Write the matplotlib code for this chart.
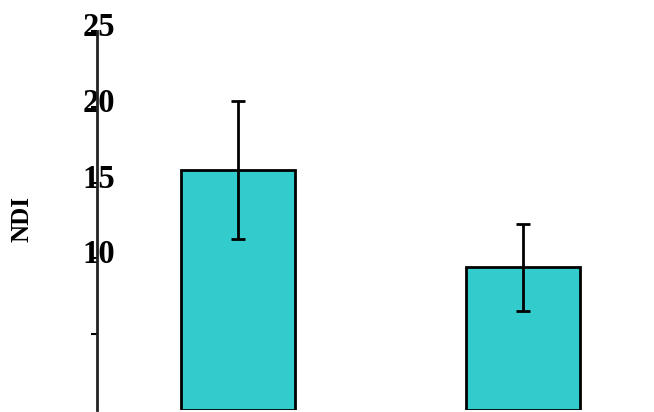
import matplotlib
matplotlib.use("Agg")
import matplotlib.pyplot as plt
from matplotlib.transforms import ScaledTranslation

# group means and error half-widths
groups = [1, 2]
ndi_mean = [15.8, 9.4]
ndi_err = [4.55, 2.9]

ytick_values = [5, 10, 15, 20, 25]
ytick_labels = ["", "10", "15", "20", "25"]

fig = plt.figure(figsize=(6.54, 4.12), dpi=100)
ax = fig.add_axes([97 / 654, 2 / 412, 1 - 97 / 654, 379 / 412])

ax.bar(groups, ndi_mean, width=0.4, color="#33CCCC", edgecolor="black", linewidth=2,
       yerr=ndi_err, error_kw=dict(ecolor="black", elinewidth=2, capsize=5, capthick=2))

ax.set_xlim(0.505, 2.46)
ax.set_ylim(0, 25)
ax.set_xticks([])
ax.set_yticks(ytick_values)
ax.set_yticklabels(ytick_labels, fontsize=23.5, fontweight="bold", family="Liberation Serif")
ax.tick_params(axis="y", direction="out", length=4, width=1.5, pad=-17)

# labels sit a little above their ticks
for lab in ax.get_yticklabels():
    lab.set_transform(lab.get_transform() + ScaledTranslation(0, 5 / 72, fig.dpi_scale_trans))

for side in ["top", "right", "bottom"]:
    ax.spines[side].set_visible(False)
ax.spines["left"].set_linewidth(2)
ax.spines["left"].set_color("#222222")

fig.text(22 / 654, 1 - 219 / 412, "NDI", rotation=90, ha="center", va="center",
         fontsize=18, fontweight="bold", family="Liberation Serif")

fig.savefig("out.png", dpi=100)
